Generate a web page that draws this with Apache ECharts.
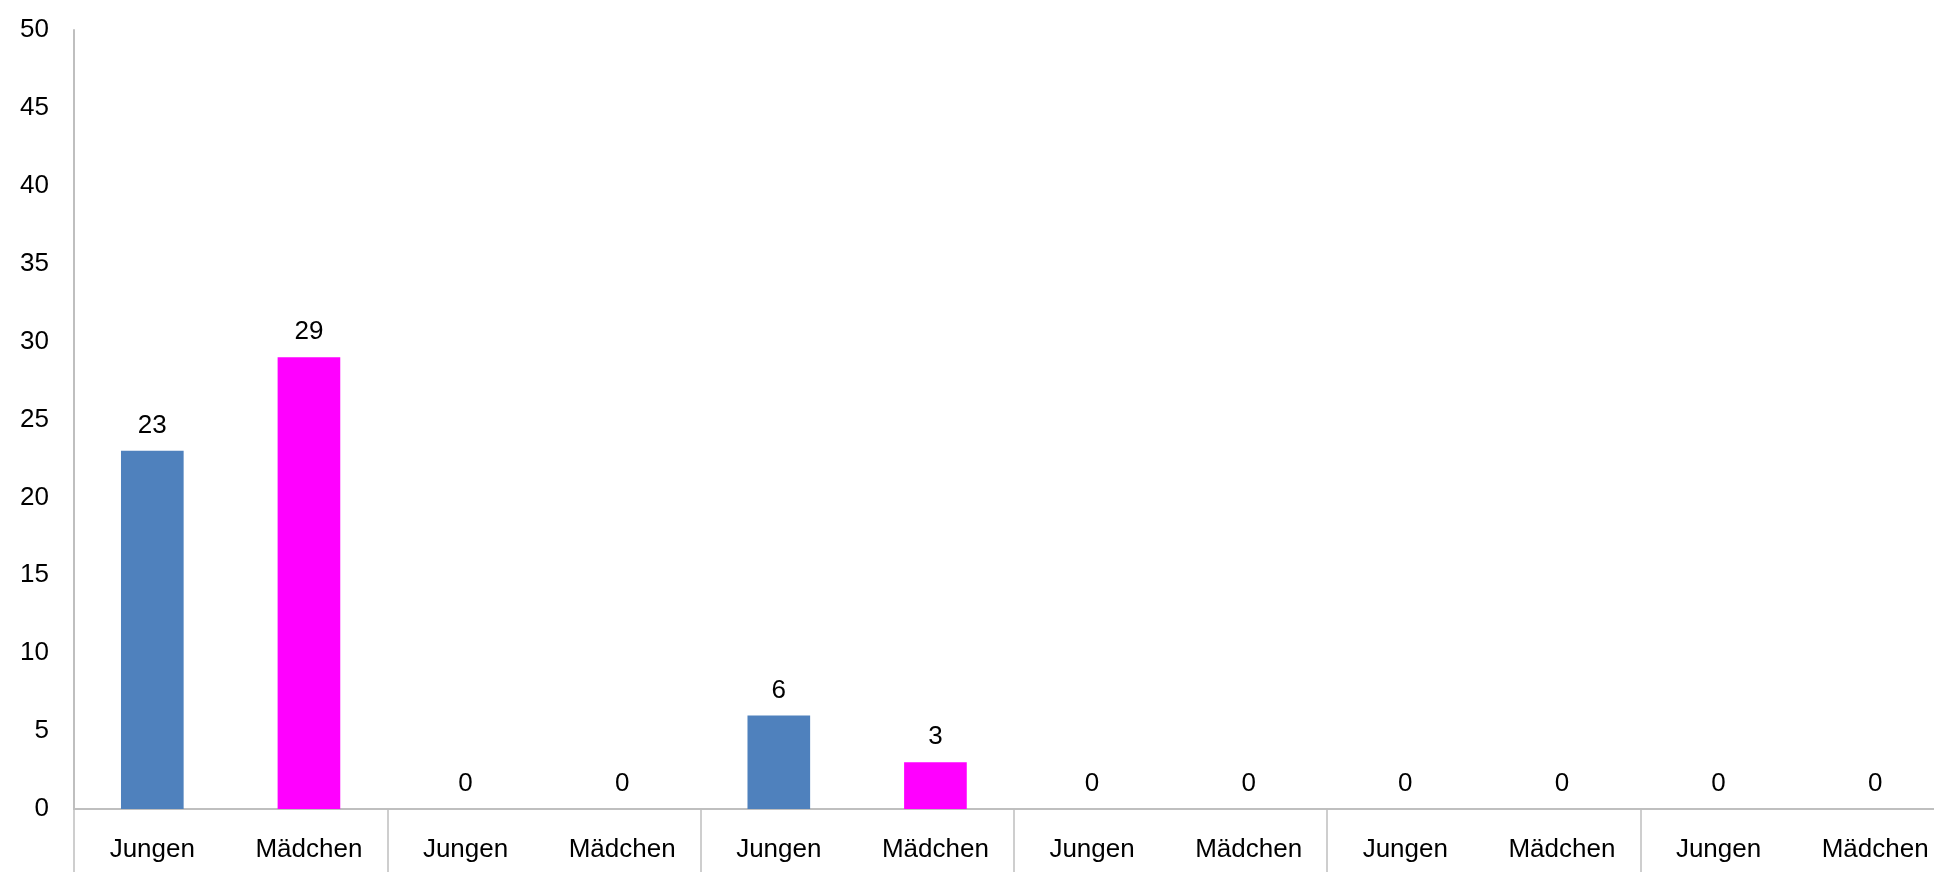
<!DOCTYPE html>
<html>
<head>
<meta charset="utf-8">
<script src="https://cdn.jsdelivr.net/npm/echarts@6/dist/echarts.min.js"></script>
<style>
html,body{margin:0;padding:0;background:#fff;}
#chart{width:1934px;height:872px;}
</style>
</head>
<body>
<div id="chart"></div>
<script>
const categories = ["Jungen","Mädchen","Jungen","Mädchen","Jungen","Mädchen","Jungen","Mädchen","Jungen","Mädchen","Jungen","Mädchen"];
const values = [23, 29, 0, 0, 6, 3, 0, 0, 0, 0, 0, 0];
const barColors = ["#4F81BD", "#FF00FF"];
const yTicks = { min: 0, max: 50, interval: 5 };

const chart = echarts.init(document.getElementById('chart'), null, { renderer: 'canvas' });
const font = '"Liberation Sans", Arial, sans-serif';
chart.setOption({
  animation: false,
  backgroundColor: '#ffffff',
  grid: { left: 74, top: 30, bottom: 63, width: 1879.5, containLabel: false, outerBoundsMode: 'none' },
  xAxis: {
    type: 'category',
    data: categories,
    boundaryGap: true,
    axisLine: { show: true, lineStyle: { color: '#bfbfbf', width: 2 } },
    axisTick: {
      show: true,
      length: 80,
      interval: function (i) { return i % 2 === 0; },
      lineStyle: { color: '#bfbfbf', width: 1.5 }
    },
    axisLabel: {
      interval: 0,
      margin: 28,
      fontSize: 26,
      lineHeight: 26,
      color: '#000',
      fontFamily: font
    }
  },
  yAxis: {
    type: 'value',
    min: yTicks.min,
    max: yTicks.max,
    interval: yTicks.interval,
    splitLine: { show: false },
    axisLine: { show: true, lineStyle: { color: '#bfbfbf', width: 2 } },
    axisTick: { show: false },
    axisLabel: { margin: 25, fontSize: 26, color: '#000', fontFamily: font }
  },
  series: [{
    type: 'bar',
    data: values,
    barWidth: '40%',
    itemStyle: { color: function (p) { return barColors[p.dataIndex % 2]; } },
    label: {
      show: true,
      position: 'top',
      distance: 12,
      fontSize: 26,
      lineHeight: 26,
      color: '#000',
      fontFamily: font
    }
  }]
});
</script>
</body>
</html>
